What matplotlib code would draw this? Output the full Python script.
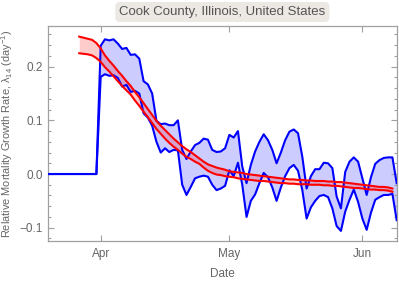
import numpy as np
import matplotlib
matplotlib.use("Agg")
import matplotlib.pyplot as plt
import matplotlib.dates as mdates

# ---- data ----
blue_start = np.datetime64("2020-03-19")
blue_upper = [0.0]*13 + [
    0.239, 0.251, 0.249, 0.251, 0.243, 0.233, 0.235, 0.222, 0.223, 0.215,
    0.173, 0.167, 0.150, 0.099, 0.093, 0.094, 0.091, 0.091, 0.100, 0.045,
    0.028, 0.042, 0.054, 0.058, 0.066, 0.064, 0.045, 0.041, 0.042, 0.048,
    0.073, 0.068, 0.080, 0.014, -0.017, 0.017, 0.042, 0.060, 0.074, 0.063,
    0.045, 0.020, 0.040, 0.063, 0.079, 0.083, 0.076, 0.032, -0.027, -0.004,
    0.009, 0.009, 0.021, 0.020, 0.011, -0.042, -0.064, 0.004, 0.023, 0.031,
    0.023, -0.008, -0.039, -0.006, 0.019, 0.026, 0.030, 0.031, 0.031, -0.017]
blue_lower = [0.0]*13 + [
    0.181, 0.186, 0.183, 0.184, 0.179, 0.163, 0.166, 0.153, 0.155, 0.150,
    0.113, 0.105, 0.090, 0.060, 0.040, 0.048, 0.041, 0.045, 0.044, -0.020,
    -0.039, -0.024, -0.008, -0.005, -0.003, -0.005, -0.020, -0.030, -0.027, -0.022,
    0.007, -0.004, 0.021, -0.020, -0.080, -0.050, -0.038, -0.017, 0.002, -0.006,
    -0.025, -0.050, -0.025, -0.004, 0.011, 0.017, 0.006, -0.030, -0.083, -0.062,
    -0.050, -0.041, -0.039, -0.043, -0.064, -0.097, -0.106, -0.070, -0.048, -0.029,
    -0.052, -0.083, -0.104, -0.072, -0.048, -0.043, -0.039, -0.039, -0.037, -0.086]

red_start = np.datetime64("2020-03-27")
red_upper = [
    0.256, 0.254, 0.252, 0.250, 0.244, 0.234, 0.221, 0.211, 0.202, 0.192,
    0.183, 0.173, 0.164, 0.153, 0.143, 0.132, 0.121, 0.110, 0.099, 0.090,
    0.082, 0.074, 0.066, 0.059, 0.052, 0.046, 0.041, 0.035, 0.029, 0.023,
    0.018, 0.015, 0.012, 0.010, 0.008, 0.005, 0.004, 0.003, 0.002, 0.000,
    -0.001, -0.002, -0.003, -0.004, -0.005, -0.006, -0.007, -0.008, -0.009, -0.010,
    -0.010, -0.011, -0.011, -0.012, -0.012, -0.013, -0.013, -0.013, -0.014, -0.014,
    -0.015, -0.015, -0.016, -0.017, -0.018, -0.019, -0.020, -0.021, -0.022, -0.023,
    -0.024, -0.024, -0.025, -0.027]
red_lower = [
    0.225, 0.224, 0.223, 0.221, 0.216, 0.209, 0.199, 0.191, 0.182, 0.173,
    0.164, 0.156, 0.148, 0.137, 0.127, 0.116, 0.106, 0.095, 0.084, 0.075,
    0.066, 0.058, 0.051, 0.045, 0.038, 0.032, 0.028, 0.023, 0.019, 0.012,
    0.006, 0.002, -0.001, -0.002, -0.004, -0.005, -0.006, -0.008, -0.009, -0.010,
    -0.011, -0.012, -0.013, -0.013, -0.014, -0.015, -0.016, -0.017, -0.017, -0.018,
    -0.018, -0.019, -0.019, -0.019, -0.020, -0.020, -0.020, -0.021, -0.021, -0.022,
    -0.022, -0.023, -0.024, -0.025, -0.026, -0.026, -0.027, -0.028, -0.029, -0.029,
    -0.030, -0.030, -0.031, -0.033]

title = "Cook County, Illinois, United States"
ylabel = "Relative Mortality Growth Rate, \u03bb$_{14}$ (day$^{-1}$)"
xlabel = "Date"
xtick_dates = ["2020-04-01", "2020-05-01", "2020-06-01"]
xtick_labels = ["Apr", "May", "Jun"]

# ---- plot ----
plt.rcParams['font.family'] = ['Liberation Sans', 'DejaVu Sans']
plt.rcParams['mathtext.fontset'] = 'custom'
plt.rcParams['mathtext.rm'] = 'Liberation Sans'
plt.rcParams['mathtext.it'] = 'Liberation Sans:italic'
plt.rcParams['mathtext.default'] = 'regular'

gray_txt = '#666666'
spine_c = '#a0a0a0'

fig = plt.figure(figsize=(3.99, 2.81), dpi=100)
axw = 396.7 - 48
ax = fig.add_axes([48/399, 1-241/281, axw/399, (241-26)/281])

bd = blue_start + np.arange(len(blue_upper)).astype('timedelta64[D]')
rd = red_start + np.arange(len(red_upper)).astype('timedelta64[D]')
bd = bd.astype('datetime64[D]').astype(object)
rd = rd.astype('datetime64[D]').astype(object)

ax.fill_between(bd, blue_lower, blue_upper, color=(0, 0, 1), alpha=0.2, lw=0)
ax.fill_between(rd, red_lower, red_upper, color=(1, 0, 0), alpha=0.2, lw=0)
ax.plot(bd, blue_upper, color=(0, 0, 1), lw=1.5, zorder=3)
ax.plot(bd, blue_lower, color=(0, 0, 1), lw=1.5, zorder=3)
ax.plot(rd, red_upper, color=(1, 0, 0), lw=1.5, zorder=4)
ax.plot(rd, red_lower, color=(1, 0, 0), lw=1.5, zorder=4)

x0 = mdates.date2num(np.datetime64("2020-04-01"))
ax.set_xlim(x0 - 12.28, x0 + 69.0)
ax.set_ylim(-0.1248, 0.2758)

ax.set_xticks([mdates.date2num(np.datetime64(d)) for d in xtick_dates])
ax.set_xticklabels(xtick_labels)
ax.set_yticks([-0.1, 0.0, 0.1, 0.2])
ax.set_yticklabels(["\u22120.1", "0.0", "0.1", "0.2"])
ax.set_yticks(np.arange(-0.12, 0.27, 0.02), minor=True)

ax.tick_params(axis='both', which='both', direction='in', top=True, right=True,
               colors=spine_c, labelcolor=gray_txt, labelsize=8.5, width=0.8)
ax.tick_params(axis='both', which='major', length=4)
ax.tick_params(axis='both', which='minor', length=2.2)
ax.tick_params(axis='x', pad=5)
for s in ax.spines.values():
    s.set_color(spine_c)
    s.set_linewidth(0.9)

ax.set_xlabel(xlabel, color=gray_txt, fontsize=8.5, labelpad=6)
ax.set_ylabel(ylabel, color=gray_txt, fontsize=7.9)
ax.yaxis.set_label_coords(-33/axw, 0.5)

fig.text((48+396.7)/2/399, 1-12/281, title, ha='center', va='center',
         fontsize=9.5, color='#555555',
         bbox=dict(boxstyle='round,pad=0.3,rounding_size=0.35',
                   fc='#ece8e3', ec='none'))

fig.savefig("out.png", dpi=100)
